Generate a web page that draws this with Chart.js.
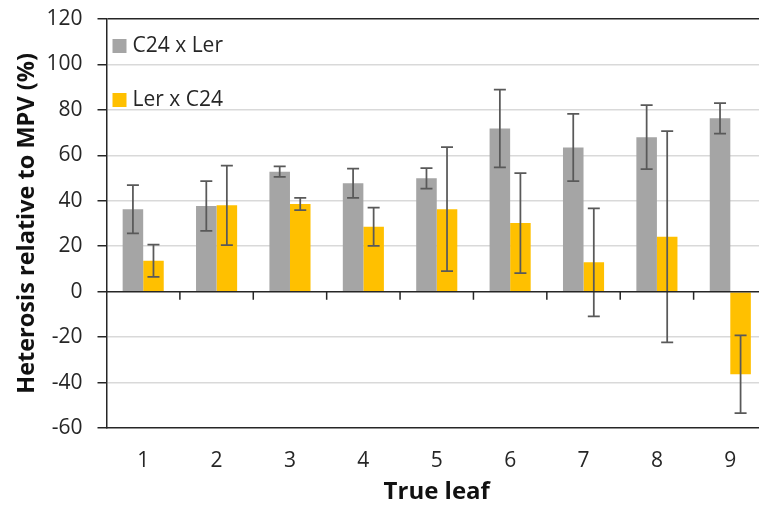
<!DOCTYPE html>
<html>
<head>
<meta charset="utf-8">
<script src="https://cdn.jsdelivr.net/npm/chart.js@4/dist/chart.umd.min.js"></script>
<style>
  html, body { margin: 0; padding: 0; background: #fff; overflow: hidden; }
  #wrap { width: 759px; height: 509px; overflow: hidden; position: relative; }
  #box { width: 770px; height: 509px; position: absolute; left: 0; top: 0; }
</style>
</head>
<body>
<div id="wrap"><div id="box"><canvas id="c"></canvas></div></div>
<script>
// Leaf positions on the x axis
const leaves = ['1', '2', '3', '4', '5', '6', '7', '8', '9'];

// Mean heterosis (%) and its error for each reciprocal cross
const c24xLer = [36.3, 37.7, 52.8, 47.7, 49.9, 71.8, 63.4, 68.0, 76.3];
const c24xLerErr = [10.6, 10.9, 2.3, 6.4, 4.5, 17.1, 14.8, 14.1, 6.7];
const lerxC24 = [13.6, 38.0, 38.6, 28.6, 36.3, 30.2, 12.9, 24.2, -36.3];
const lerxC24Err = [7.1, 17.5, 2.7, 8.4, 27.3, 22.0, 23.8, 46.5, 17.1];

// Value axis range
const yMin = -60;
const yMax = 120;
const yStep = 20;

const AXIS = '#262626';
const TEXT = '#262626';
const FONT = "'Open Sans', sans-serif";

// Error bars, zero line with its tick marks, and the in-plot legend
const overlay = {
  id: 'overlay',
  afterDatasetsDraw(chart) {
    const ctx = chart.ctx;
    const xs = chart.scales.x;
    const ys = chart.scales.y;
    const area = chart.chartArea;
    ctx.save();

    // error bars
    ctx.strokeStyle = '#595959';
    ctx.lineWidth = 1.75;
    chart.data.datasets.forEach((ds, d) => {
      const meta = chart.getDatasetMeta(d);
      meta.data.forEach((bar, i) => {
        const v = ds.data[i];
        const e = ds.errors[i];
        const yTop = ys.getPixelForValue(v + e);
        const yBot = ys.getPixelForValue(v - e);
        const x = bar.x;
        ctx.beginPath();
        ctx.moveTo(x, yTop); ctx.lineTo(x, yBot);
        ctx.moveTo(x - 6, yTop); ctx.lineTo(x + 6, yTop);
        ctx.moveTo(x - 6, yBot); ctx.lineTo(x + 6, yBot);
        ctx.stroke();
      });
    });

    // horizontal axis line at zero with tick marks between categories
    const y0 = ys.getPixelForValue(0);
    ctx.strokeStyle = AXIS;
    ctx.lineWidth = 1.5;
    ctx.beginPath();
    ctx.moveTo(area.left, y0); ctx.lineTo(area.right, y0);
    for (let i = 1; i < leaves.length; i++) {
      const x = (xs.getPixelForValue(i - 1) + xs.getPixelForValue(i)) / 2;
      ctx.moveTo(x, y0); ctx.lineTo(x, y0 + 8);
    }
    ctx.stroke();

    // legend
    ctx.font = "21px " + FONT;
    ctx.textBaseline = 'middle';
    ctx.textAlign = 'left';
    chart.data.datasets.forEach((ds, d) => {
      const cy = area.top + 27 + d * 54;
      const sx = area.left + 6;
      ctx.fillStyle = ds.backgroundColor;
      ctx.fillRect(sx, cy - 7, 14, 14);
      ctx.fillStyle = TEXT;
      ctx.fillText(ds.label, sx + 20, cy);
    });
    ctx.restore();
  }
};

new Chart(document.getElementById('c'), {
  type: 'bar',
  data: {
    labels: leaves,
    datasets: [
      { label: 'C24 x Ler', data: c24xLer, errors: c24xLerErr, backgroundColor: '#a5a5a5' },
      { label: 'Ler x C24', data: lerxC24, errors: lerxC24Err, backgroundColor: '#ffc000' }
    ]
  },
  options: {
    responsive: true,
    maintainAspectRatio: false,
    animation: false,
    devicePixelRatio: 1,
    layout: { padding: { left: 0, top: 19, right: 3, bottom: 0 } },
    datasets: { bar: { categoryPercentage: 0.56, barPercentage: 1.0 } },
    plugins: {
      legend: { display: false },
      tooltip: { enabled: false }
    },
    scales: {
      x: {
        grid: { display: false, drawTicks: false },
        border: { display: true, color: AXIS, width: 1.5 },
        ticks: { color: TEXT, font: { family: FONT, size: 21 }, padding: 20 },
        title: {
          display: true, text: 'True leaf', color: '#111111',
          font: { family: FONT, size: 24, weight: 'bold' },
          padding: { top: 0, bottom: 2 }
        },
        afterFit(scale) { scale.height = 81; }
      },
      y: {
        min: yMin,
        max: yMax,
        ticks: { stepSize: yStep, color: TEXT, font: { family: FONT, size: 21 }, padding: 15 },
        grid: {
          drawTicks: true,
          tickLength: 9,
          tickColor: AXIS,
          tickWidth: 1.5,
          color: (c) => {
            const v = c.tick ? c.tick.value : null;
            if (v === yMax) return AXIS;
            if (v === 0 || v === yMin) return 'rgba(0,0,0,0)';
            return '#d9d9d9';
          },
          lineWidth: 1.5
        },
        border: { display: true, color: AXIS, width: 1.5 },
        title: {
          display: true, text: 'Heterosis relative to MPV (%)', color: '#111111',
          font: { family: FONT, size: 23.5, weight: 'bold' },
          padding: { top: 13, bottom: 0 }
        },
        afterFit(scale) {
          scale.width = 106.5;
          scale.paddingTop = 0;
          scale.paddingBottom = 0;
        }
      }
    }
  },
  plugins: [overlay]
});
</script>
</body>
</html>
